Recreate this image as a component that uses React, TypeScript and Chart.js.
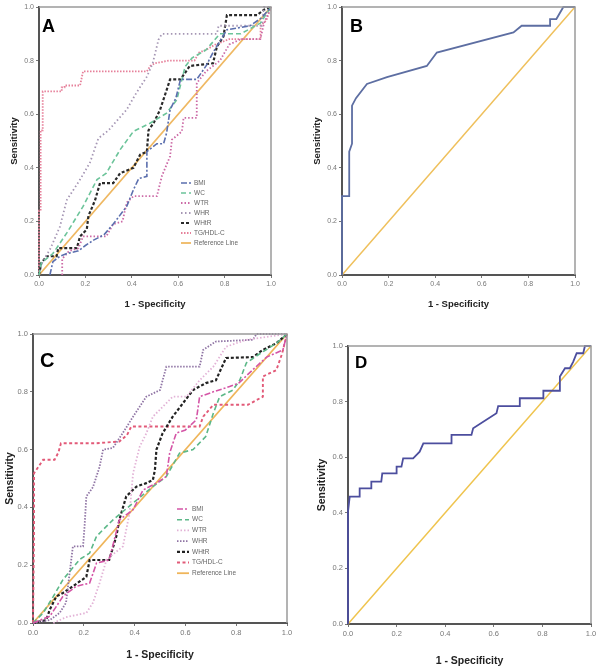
import React, { useEffect, useRef } from 'react';
import { Chart, registerables } from 'chart.js';
Chart.register(...registerables);

type Pt = [number, number];

const TICKS = [0, 0.2, 0.4, 0.6, 0.8, 1.0];
const SERIES_NAMES = ['BMI', 'WC', 'WTR', 'WHR', 'WHtR', 'TG/HDL-C', 'Reference Line'];
const REF: Pt[] = [[0, 0], [1, 1]];

// Panel A
const A_BMI: Pt[] = [[0.047,0],[0.06,0.05],[0.09,0.07],[0.12,0.08],[0.17,0.09],[0.2,0.11],[0.235,0.13],[0.28,0.15],[0.32,0.19],[0.378,0.256],[0.407,0.318],[0.43,0.36],[0.465,0.368],[0.465,0.46],[0.508,0.49],[0.537,0.49],[0.55,0.53],[0.565,0.617],[0.59,0.66],[0.61,0.73],[0.68,0.73],[0.72,0.78],[0.75,0.83],[0.81,0.915],[0.91,0.93],[0.96,0.96],[1,1]];
const A_WC: Pt[] = [[0,0],[0.01,0.045],[0.06,0.08],[0.12,0.157],[0.19,0.256],[0.25,0.356],[0.29,0.38],[0.35,0.468],[0.407,0.536],[0.48,0.567],[0.55,0.604],[0.594,0.654],[0.63,0.778],[0.66,0.81],[0.72,0.84],[0.78,0.9],[0.87,0.9],[0.954,0.94],[1,1]];
const A_WTR: Pt[] = [[0.1,0],[0.1,0.06],[0.13,0.09],[0.17,0.1],[0.19,0.144],[0.29,0.144],[0.32,0.19],[0.36,0.2],[0.378,0.27],[0.407,0.294],[0.508,0.294],[0.53,0.37],[0.565,0.443],[0.573,0.505],[0.616,0.536],[0.623,0.586],[0.68,0.586],[0.68,0.716],[0.72,0.76],[0.78,0.8],[0.82,0.86],[0.87,0.88],[0.954,0.88],[0.97,0.94],[1,1]];
const A_WHR: Pt[] = [[0,0],[0.01,0.04],[0.05,0.1],[0.09,0.18],[0.12,0.28],[0.177,0.356],[0.22,0.42],[0.256,0.51],[0.3,0.54],[0.34,0.58],[0.378,0.617],[0.42,0.68],[0.465,0.74],[0.49,0.79],[0.515,0.878],[0.53,0.9],[0.767,0.9],[0.774,0.93],[0.96,0.93],[0.97,1],[1,1]];
const A_WHTR: Pt[] = [[0,0],[0.01,0.045],[0.033,0.07],[0.076,0.07],[0.083,0.1],[0.163,0.1],[0.177,0.144],[0.206,0.17],[0.213,0.22],[0.242,0.28],[0.263,0.343],[0.32,0.343],[0.35,0.38],[0.407,0.4],[0.436,0.449],[0.465,0.46],[0.472,0.54],[0.494,0.567],[0.522,0.617],[0.55,0.69],[0.565,0.73],[0.61,0.73],[0.65,0.78],[0.75,0.79],[0.767,0.853],[0.795,0.89],[0.81,0.97],[0.94,0.97],[0.97,0.99],[1,1]];
const A_TG: Pt[] = [[0,0],[0,0.24],[0.007,0.24],[0.007,0.54],[0.016,0.54],[0.016,0.685],[0.098,0.685],[0.098,0.7],[0.11,0.7],[0.11,0.707],[0.177,0.707],[0.19,0.76],[0.465,0.76],[0.48,0.78],[0.5,0.79],[0.56,0.8],[0.67,0.8],[0.69,0.83],[0.72,0.84],[0.76,0.86],[0.82,0.88],[0.955,0.88],[0.955,0.93],[0.98,0.95],[1,1]];

// Panel B
const B_CURVE: Pt[] = [[0,0],[0,0.294],[0.031,0.294],[0.031,0.46],[0.043,0.49],[0.043,0.632],[0.06,0.66],[0.107,0.713],[0.193,0.738],[0.364,0.78],[0.407,0.83],[0.736,0.905],[0.771,0.93],[0.893,0.93],[0.893,0.955],[0.92,0.955],[0.95,1],[1,1]];

// Panel C
const C_BMI: Pt[] = [[0,0],[0.066,0.023],[0.118,0.092],[0.17,0.127],[0.223,0.138],[0.25,0.207],[0.3,0.218],[0.34,0.357],[0.394,0.392],[0.433,0.46],[0.486,0.484],[0.525,0.507],[0.538,0.588],[0.564,0.657],[0.6,0.668],[0.643,0.703],[0.656,0.783],[0.71,0.8],[0.774,0.818],[0.81,0.83],[0.866,0.877],[0.92,0.92],[0.984,0.945],[1,1]];
const C_WC: Pt[] = [[0,0],[0.04,0.035],[0.08,0.092],[0.118,0.15],[0.184,0.22],[0.223,0.242],[0.25,0.3],[0.315,0.357],[0.394,0.415],[0.472,0.472],[0.525,0.507],[0.577,0.588],[0.63,0.6],[0.68,0.645],[0.71,0.726],[0.735,0.783],[0.787,0.806],[0.814,0.84],[0.84,0.9],[0.89,0.93],[0.958,0.968],[1,1]];
const C_WTR: Pt[] = [[0.08,0],[0.13,0.02],[0.21,0.035],[0.236,0.07],[0.262,0.138],[0.29,0.22],[0.354,0.265],[0.38,0.38],[0.394,0.518],[0.42,0.61],[0.446,0.656],[0.472,0.714],[0.55,0.783],[0.604,0.783],[0.656,0.84],[0.71,0.887],[0.76,0.956],[0.84,0.98],[0.92,0.99],[1,1]];
const C_WHR: Pt[] = [[0,0],[0.066,0.01],[0.105,0.035],[0.13,0.07],[0.157,0.265],[0.197,0.265],[0.203,0.334],[0.21,0.438],[0.236,0.47],[0.262,0.54],[0.276,0.6],[0.315,0.606],[0.354,0.658],[0.394,0.714],[0.446,0.783],[0.5,0.806],[0.525,0.887],[0.656,0.887],[0.67,0.945],[0.72,0.974],[0.866,0.98],[0.88,1],[1,1]];
const C_WHTR: Pt[] = [[0,0],[0.052,0.01],[0.066,0.046],[0.092,0.092],[0.118,0.104],[0.157,0.127],[0.21,0.16],[0.223,0.218],[0.3,0.218],[0.328,0.3],[0.34,0.357],[0.367,0.438],[0.407,0.472],[0.446,0.484],[0.472,0.495],[0.48,0.53],[0.486,0.6],[0.51,0.656],[0.55,0.714],[0.59,0.76],[0.63,0.806],[0.68,0.83],[0.72,0.84],[0.76,0.917],[0.866,0.92],[0.905,0.945],[0.958,0.968],[1,1]];
const C_TG: Pt[] = [[0,0],[0.004,0.31],[0.004,0.518],[0.04,0.565],[0.085,0.565],[0.1,0.59],[0.11,0.622],[0.25,0.622],[0.34,0.628],[0.37,0.65],[0.387,0.68],[0.656,0.68],[0.67,0.714],[0.71,0.755],[0.846,0.755],[0.905,0.783],[0.905,0.853],[0.958,0.875],[0.98,0.93],[1,1]];

// Panel D
const D_CURVE: Pt[] = [[0,0],[0,0.404],[0.007,0.458],[0.048,0.458],[0.048,0.488],[0.096,0.488],[0.096,0.512],[0.137,0.512],[0.141,0.542],[0.2,0.542],[0.2,0.566],[0.22,0.566],[0.227,0.596],[0.268,0.596],[0.295,0.62],[0.31,0.65],[0.426,0.65],[0.426,0.68],[0.508,0.68],[0.515,0.704],[0.611,0.758],[0.618,0.784],[0.707,0.784],[0.707,0.812],[0.804,0.812],[0.804,0.839],[0.872,0.839],[0.872,0.89],[0.893,0.92],[0.913,0.92],[0.927,0.944],[0.941,0.974],[0.968,0.974],[0.975,1],[1,1]];

type Style = { color: string; dash: number[]; width: number };
const STYLES_A: Style[] = [
  { color: '#5b6fae', dash: [6, 2, 2, 2], width: 1.6 },
  { color: '#6cc49a', dash: [5, 3], width: 1.6 },
  { color: '#cc6aa6', dash: [1.5, 2], width: 1.8 },
  { color: '#a596b4', dash: [1.5, 2.5], width: 1.8 },
  { color: '#2a2a2a', dash: [3, 2], width: 2.2 },
  { color: '#e6809a', dash: [1.5, 1.5], width: 1.8 },
  { color: '#efb862', dash: [], width: 1.8 },
];
const STYLES_C: Style[] = [
  { color: '#d455a6', dash: [6, 2, 2, 2], width: 1.6 },
  { color: '#5cb888', dash: [5, 3], width: 1.6 },
  { color: '#e2b2d6', dash: [1.5, 2], width: 1.8 },
  { color: '#8f74a4', dash: [1.5, 1.5], width: 1.8 },
  { color: '#222222', dash: [3, 2], width: 2.2 },
  { color: '#e25a78', dash: [3, 2.5], width: 1.9 },
  { color: '#efb55a', dash: [], width: 1.8 },
];

type Panel = {
  left: number; top: number; width: number; height: number;
  padTop: number; padRight: number; yAxisW: number; xAxisH: number;
  letter: string; letterSize: number; letterDx: number; letterDy: number;
  tickSize: number; titleSize: number; yTitlePad: number; xTitlePad: number;
  series: { name: string; pts: Pt[]; style: Style }[];
  legend?: { x: number; y: number; step: number; len: number };
};

const mk = (pts: Pt[][], styles: Style[]) =>
  pts.map((p, i) => ({ name: SERIES_NAMES[i], pts: p, style: styles[i] }));

const PANELS: Panel[] = [
  {
    left: 0, top: 0, width: 300, height: 312, padTop: 7, padRight: 29, yAxisW: 39, xAxisH: 37,
    letter: 'A', letterSize: 18, letterDx: 3, letterDy: 25, tickSize: 7, titleSize: 9.5, yTitlePad: 9, xTitlePad: 2,
    series: mk([A_BMI, A_WC, A_WTR, A_WHR, A_WHTR, A_TG, REF], STYLES_A),
    legend: { x: 181, y: 183, step: 10, len: 10 },
  },
  {
    left: 300, top: 0, width: 300, height: 312, padTop: 7, padRight: 25, yAxisW: 42, xAxisH: 37,
    letter: 'B', letterSize: 18, letterDx: 8, letterDy: 25, tickSize: 7, titleSize: 9.5, yTitlePad: 12, xTitlePad: 2,
    series: [{ name: 'B', pts: B_CURVE, style: { color: '#5d6ea2', dash: [], width: 1.8 } }, { name: 'Reference Line', pts: REF, style: { color: '#efc05c', dash: [], width: 1.5 } }],
  },
  {
    left: 0, top: 320, width: 300, height: 348, padTop: 14, padRight: 13, yAxisW: 33, xAxisH: 45,
    letter: 'C', letterSize: 20, letterDx: 7, letterDy: 33, tickSize: 7.5, titleSize: 10.5, yTitlePad: 4, xTitlePad: 7,
    series: mk([C_BMI, C_WC, C_WTR, C_WHR, C_WHTR, C_TG, REF], STYLES_C),
    legend: { x: 177, y: 189, step: 10.7, len: 12 },
  },
  {
    left: 300, top: 320, width: 300, height: 348, padTop: 26, padRight: 9, yAxisW: 48, xAxisH: 44,
    letter: 'D', letterSize: 17, letterDx: 7, letterDy: 22, tickSize: 7.5, titleSize: 10.5, yTitlePad: 16, xTitlePad: 1,
    series: [{ name: 'D', pts: D_CURVE, style: { color: '#4c4e9e', dash: [], width: 1.8 } }, { name: 'Reference Line', pts: REF, style: { color: '#efc44e', dash: [], width: 1.5 } }],
  },
];

function PanelChart({ p }: { p: Panel }) {
  const ref = useRef<HTMLCanvasElement | null>(null);
  useEffect(() => {
    if (!ref.current) return;
    const decor = {
      id: 'decor',
      afterDraw(chart: any) {
        const { ctx, chartArea: a } = chart;
        ctx.save();
        ctx.strokeStyle = '#9a9a9a';
        ctx.lineWidth = 1.5;
        ctx.beginPath();
        ctx.moveTo(a.left, a.top);
        ctx.lineTo(a.right, a.top);
        ctx.lineTo(a.right, a.bottom);
        ctx.stroke();
        ctx.fillStyle = '#000';
        ctx.font = `bold ${p.letterSize}px Arial, "Liberation Sans", sans-serif`;
        ctx.textBaseline = 'alphabetic';
        ctx.fillText(p.letter, a.left + p.letterDx, a.top + p.letterDy);
        if (p.legend) {
          const L = p.legend;
          chart.data.datasets.forEach((ds: any, i: number) => {
            const y = L.y + i * L.step;
            ctx.strokeStyle = ds.borderColor;
            ctx.lineWidth = ds.borderWidth;
            ctx.setLineDash(ds.borderDash || []);
            ctx.beginPath();
            ctx.moveTo(L.x, y);
            ctx.lineTo(L.x + L.len, y);
            ctx.stroke();
            ctx.setLineDash([]);
            ctx.fillStyle = '#666';
            ctx.font = '6.5px Arial, "Liberation Sans", sans-serif';
            ctx.textBaseline = 'middle';
            ctx.fillText(ds.label, L.x + L.len + 3, y);
          });
        }
        ctx.restore();
      },
    };
    const font = 'Arial, "Liberation Sans", sans-serif';
    const chart = new Chart(ref.current, {
      type: 'scatter',
      data: {
        datasets: p.series.map((s) => ({
          label: s.name,
          data: s.pts.map(([x, y]) => ({ x, y })),
          showLine: true,
          pointRadius: 0,
          borderColor: s.style.color,
          backgroundColor: s.style.color,
          borderWidth: s.style.width,
          borderDash: s.style.dash,
          tension: 0,
          clip: 3,
        })),
      },
      options: {
        responsive: false,
        animation: false,
        layout: { padding: { top: p.padTop, right: p.padRight, left: 0, bottom: 0 } },
        plugins: { legend: { display: false }, tooltip: { enabled: false } },
        scales: {
          x: {
            type: 'linear', min: 0, max: 1,
            afterFit: (s: any) => { s.height = p.xAxisH; },
            afterBuildTicks: (s: any) => { s.ticks = TICKS.map((v) => ({ value: v })); },
            ticks: { callback: (v: any) => Number(v).toFixed(1), font: { size: p.tickSize, family: font }, color: '#777', padding: 2, maxRotation: 0 },
            grid: { drawOnChartArea: false, tickLength: 3, color: '#777' },
            border: { display: true, color: '#555', width: 2 },
            title: { display: true, text: '1 - Specificity', color: '#222', font: { size: p.titleSize, weight: 'bold', family: font }, padding: { top: 0, bottom: p.xTitlePad } },
          },
          y: {
            type: 'linear', min: 0, max: 1,
            afterFit: (s: any) => { s.width = p.yAxisW; },
            afterBuildTicks: (s: any) => { s.ticks = TICKS.map((v) => ({ value: v })); },
            ticks: { callback: (v: any) => Number(v).toFixed(1), font: { size: p.tickSize, family: font }, color: '#777', padding: 2 },
            grid: { drawOnChartArea: false, tickLength: 3, color: '#777' },
            border: { display: true, color: '#555', width: 2 },
            title: { display: true, text: 'Sensitivity', color: '#222', font: { size: p.titleSize, weight: 'bold', family: font }, padding: { top: p.yTitlePad, bottom: 0 } },
          },
        },
      } as any,
      plugins: [decor],
    });
    return () => chart.destroy();
  }, [p]);
  return (
    <canvas
      ref={ref}
      width={p.width}
      height={p.height}
      style={{ position: 'absolute', left: p.left, top: p.top, width: p.width, height: p.height }}
    />
  );
}

export default function App() {
  return (
    <div style={{ position: 'absolute', left: 0, top: 0, width: 600, height: 668, background: '#fff' }}>
      {PANELS.map((p) => (
        <PanelChart key={p.letter} p={p} />
      ))}
    </div>
  );
}
